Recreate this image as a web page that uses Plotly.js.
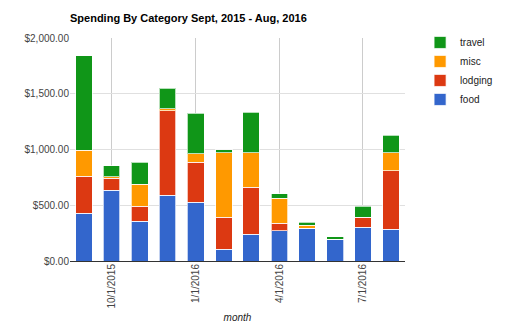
<!DOCTYPE html>
<html>
<head>
<meta charset="utf-8">
<script src="https://cdn.plot.ly/plotly-3.0.1.min.js"></script>
<style>html,body{margin:0;padding:0;background:#fff;}#chart{width:510px;height:329px;}</style>
</head>
<body>
<div id="chart"></div>
<script>
var months = ['2015-09-01','2015-10-01','2015-11-01','2015-12-01','2016-01-01','2016-02-01','2016-03-01','2016-04-01','2016-05-01','2016-06-01','2016-07-01','2016-08-01'];
var food    = [430, 633, 358, 591, 525, 107, 242, 271, 292, 197, 304, 286];
var lodging = [331, 110, 135, 755, 362, 284, 420, 69, 0, 0, 90, 522];
var misc    = [233, 12, 197, 21, 74, 579, 307, 224, 30, 0, 0, 161];
var travel  = [848, 99, 194, 182, 364, 30, 367, 41, 27, 21, 98, 161];
var tickDates = ['2015-10-01','2016-01-01','2016-04-01','2016-07-01'];
var tickLabels = ['10/1/2015','1/1/2016','4/1/2016','7/1/2016'];

var series = [
  {name:'food', y:food, color:'#3366cc'},
  {name:'lodging', y:lodging, color:'#dc3912'},
  {name:'misc', y:misc, color:'#ff9900'},
  {name:'travel', y:travel, color:'#109618'}
];
var DAY = 86400000;
var traces = series.map(function(s){
  return {type:'bar', name:s.name, x:months, y:s.y, width:18*DAY,
    marker:{color:s.color, line:{color:'rgba(255,255,255,0.7)', width:1}},
    hoverinfo:'none'};
});
var layout = {
  width:510, height:329,
  margin:{l:70, r:75, t:38, b:68},
  barmode:'stack',
  paper_bgcolor:'#fff', plot_bgcolor:'#fff',
  font:{family:'Liberation Sans, Arial, sans-serif', size:10, color:'#444'},
  title:{text:'<b>Spending By Category Sept, 2015 - Aug, 2016</b>', x:70/510, xanchor:'left', y:1-18/329, yanchor:'middle', font:{size:11, color:'#000'}},
  xaxis:{type:'date', range:['2015-08-17','2016-08-16'], tickvals:tickDates, ticktext:tickLabels,
    tickangle:-90, showgrid:true, gridcolor:'#cccccc', ticks:'', showline:false, zeroline:false,
    tickfont:{size:10, color:'#444'},
    title:{text:'<i>month</i>', font:{size:10, color:'#222'}, standoff:6}},
  yaxis:{range:[0,2000], tickvals:[0,500,1000,1500,2000], tickformat:'$,.2f', showgrid:true, gridcolor:'#e0e0e0',
    zeroline:true, zerolinecolor:'#333', zerolinewidth:1, ticks:'', tickfont:{size:10, color:'#444'}, automargin:false},
  legend:{x:1.045, xanchor:'left', y:1.045, yanchor:'top', traceorder:'reversed', font:{size:10, color:'#222'}, itemwidth:30},
  showlegend:true
};
Plotly.newPlot('chart', traces, layout, {displayModeBar:false, staticPlot:true});
</script>
</body>
</html>
